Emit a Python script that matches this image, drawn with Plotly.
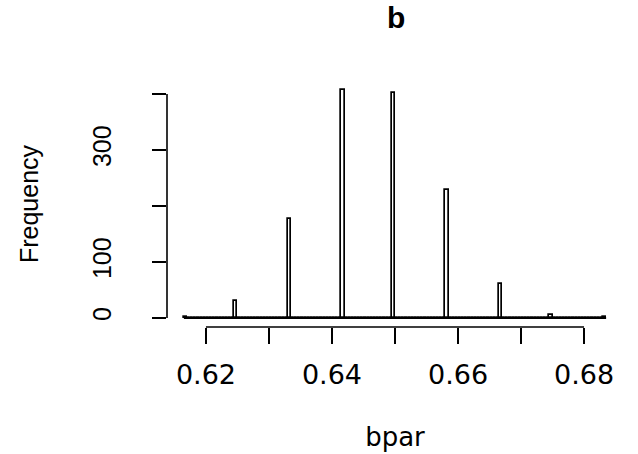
import numpy as np
import plotly.graph_objects as go

# ---- data ----
bpar_values = [74/120, 75/120, 76/120, 77/120, 78/120, 79/120, 80/120, 81/120, 82/120]
frequency = [1, 31, 177, 407, 401, 229, 61, 5, 1]
bin_width = 0.0005
break_start = 0.6165
break_end = 0.6835

x_tickvals = [0.62, 0.63, 0.64, 0.65, 0.66, 0.67, 0.68]
x_ticktext = ["0.62", "", "0.64", "", "0.66", "", "0.68"]
y_tickvals = [0, 100, 200, 300, 400]
y_ticktext = ["0", "100", "", "300", ""]

title_text = "b"
x_title = "bpar"
y_title = "Frequency"

# ---- histogram bins (R style, right-closed) ----
nbins = int(round((break_end - break_start) / bin_width))
breaks = break_start + bin_width * np.arange(nbins + 1)
counts = np.zeros(nbins)
for v, c in zip(bpar_values, frequency):
    idx = int(np.searchsorted(breaks, v, side="left")) - 1
    idx = min(max(idx, 0), nbins - 1)
    counts[idx] += c
centers = (breaks[:-1] + breaks[1:]) / 2

xlo, xhi = breaks[0], breaks[-1]
xpad = 0.04 * (xhi - xlo)
ymax = counts.max()
ypad = 0.04 * ymax

fig = go.Figure()
fig.add_trace(go.Scatter(
    x=[breaks[0], breaks[-1]], y=[0, 0], mode="lines",
    line=dict(color="black", width=2), hoverinfo="skip", showlegend=False))
fig.add_trace(go.Bar(
    x=centers, y=counts, width=bin_width,
    marker=dict(color="white", line=dict(color="black", width=1.7)),
    showlegend=False))

fig.add_shape(type="line", xref="x", yref="paper",
              x0=x_tickvals[0], x1=x_tickvals[-1], y0=0, y1=0,
              line=dict(color="black", width=1.6))
fig.add_shape(type="line", xref="paper", yref="y",
              x0=0, x1=0, y0=y_tickvals[0], y1=y_tickvals[-1],
              line=dict(color="black", width=1.6))

fig.update_layout(
    width=638, height=454,
    margin=dict(l=167, r=15, t=81, b=127, autoexpand=False),
    plot_bgcolor="white", paper_bgcolor="white",
    font=dict(family="Liberation Sans, Arial, sans-serif", color="black"),
    bargap=0,
    title=dict(text="<b>" + title_text + "</b>", x=0.621, xanchor="center",
               y=0.961, yanchor="middle",
               font=dict(family="Liberation Sans, Arial, sans-serif", size=30)),
    xaxis=dict(
        range=[xlo - xpad, xhi + xpad], automargin=False,
        tickmode="array", tickvals=x_tickvals, ticktext=x_ticktext,
        ticks="outside", ticklen=16, tickwidth=1.6, tickcolor="black",
        showline=False, showgrid=False, zeroline=False,
        tickfont=dict(family="DejaVu Sans, sans-serif", size=27),
        ticklabelstandoff=8,
        title=dict(text=x_title, standoff=38,
                   font=dict(family="DejaVu Sans, sans-serif", size=26)),
    ),
    yaxis=dict(
        range=[-ypad, ymax + ypad], automargin=False,
        tickmode="array", tickvals=y_tickvals, ticktext=y_ticktext,
        ticks="outside", ticklen=14, tickwidth=1.6, tickcolor="black",
        tickangle=-90,
        showline=False, showgrid=False, zeroline=False,
        tickfont=dict(family="Liberation Sans, Arial, sans-serif", size=25),
        ticklabelstandoff=31,
        title=dict(text=y_title, standoff=42,
                   font=dict(family="Liberation Sans, Arial, sans-serif", size=25)),
    ),
)

fig.write_html("out.html", config={"displayModeBar": False},
               post_script="document.body.style.margin='0px';document.body.style.padding='0px';")
